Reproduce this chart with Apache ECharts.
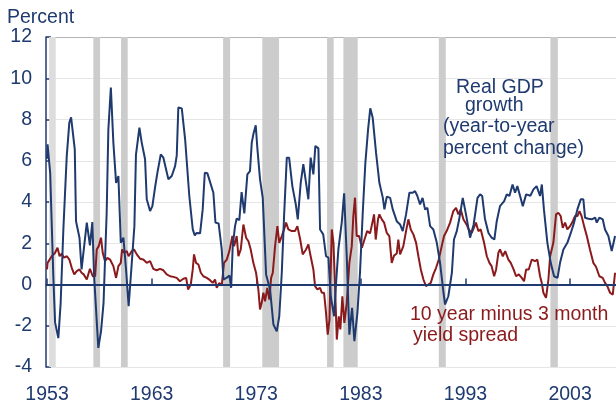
<!DOCTYPE html>
<html>
<head>
<meta charset="utf-8">
<script src="https://cdn.jsdelivr.net/npm/echarts@6/dist/echarts.min.js"></script>
<style>
  html, body { margin: 0; padding: 0; background: #fff; }
  #chart { width: 616px; height: 406px; }
</style>
</head>
<body>
<div id="chart"></div>
<script>
const NAVY = '#1f3a6f'
const RED = '#8b1a1c'
const BAR = '#cccccc'

const xTicks = [1953, 1963, 1973, 1983, 1993, 2003]

// recessions (start, end)
const recStart = [1953.2, 1957.43, 1960.07, 1969.83, 1973.58, 1979.77, 1981.33, 1990.45, 2001.12]
const recEnd = [1953.83, 1958.07, 1960.71, 1970.5, 1975.18, 1980.4, 1982.7, 1991.12, 2001.83]

// real GDP growth, year-to-year percent change
const gdpYears = [
  1953.0, 1953.05, 1953.3, 1953.6, 1953.77, 1954.08, 1954.3, 1954.56, 1954.88, 1955.13,
  1955.3, 1955.65, 1955.77, 1956.1, 1956.3, 1956.8, 1957.1, 1957.33, 1957.5, 1957.9,
  1958.16, 1958.4, 1958.7, 1958.86, 1959.1, 1959.34, 1959.6, 1959.82, 1960.05, 1960.3,
  1960.55, 1960.8, 1961.1, 1961.35, 1961.5, 1961.83, 1962.05, 1962.37, 1962.53, 1962.85,
  1963.07, 1963.32, 1963.55, 1963.87, 1964.12, 1964.6, 1964.92, 1965.24, 1965.4, 1965.55,
  1965.88, 1966.2, 1966.6, 1966.93, 1967.12, 1967.3, 1967.63, 1967.88, 1968.08, 1968.33,
  1968.9, 1969.1, 1969.4, 1969.7, 1969.86, 1970.18, 1970.43, 1970.6, 1970.75, 1970.97,
  1971.13, 1971.38, 1971.6, 1971.86, 1972.15, 1972.4, 1972.57, 1972.72, 1972.95, 1973.1,
  1973.36, 1973.62, 1973.94, 1974.32, 1974.64, 1974.96, 1975.2, 1975.44, 1975.66, 1975.92,
  1976.14, 1976.45, 1976.78, 1976.97, 1977.25, 1977.5, 1977.76, 1977.98, 1978.2, 1978.46,
  1978.65, 1978.94, 1979.1, 1979.4, 1979.67, 1979.9, 1980.12, 1980.44, 1980.63, 1980.85,
  1981.17, 1981.4, 1981.65, 1981.9, 1982.16, 1982.38, 1982.67, 1982.92, 1983.18, 1983.43,
  1983.69, 1983.9, 1984.13, 1984.45, 1984.77, 1985.1, 1985.25, 1985.48, 1985.8, 1986.05,
  1986.43, 1986.75, 1987.0, 1987.32, 1987.64, 1987.96, 1988.18, 1988.4, 1988.66, 1988.9,
  1989.14, 1989.36, 1989.62, 1989.93, 1990.26, 1990.57, 1990.9, 1991.05, 1991.36, 1991.7,
  1991.9, 1992.17, 1992.4, 1992.74, 1993.05, 1993.44, 1993.78, 1994.15, 1994.4, 1994.6,
  1994.87, 1995.2, 1995.5, 1995.76, 1995.99, 1996.3, 1996.7, 1996.95, 1997.2, 1997.5,
  1997.74, 1997.96, 1998.22, 1998.48, 1998.8, 1999.2, 1999.5, 1999.8, 2000.13, 2000.3,
  2000.5, 2000.83, 2001.15, 2001.47, 2001.8, 2002.04, 2002.36, 2002.74, 2003.07, 2003.38,
  2003.7, 2004.02, 2004.27, 2004.43, 2004.75, 2005.07, 2005.4, 2005.55, 2005.8, 2006.12,
  2006.34, 2006.66, 2006.98, 2007.3
]
const gdpValues = [
  6.1, 6.8, 5.4, 0.4, -1.85, -2.6, -0.9, 2.67, 6.2, 7.85,
  8.1, 6.55, 3.07, 2.27, 0.73, 3.0, 1.9, 3.03, 0.4, -3.07,
  -2.27, -0.9, 3.48, 7.5, 9.55, 6.88, 4.93, 5.26, 2.02, 2.27,
  0.73, -1.05, 1.05, 2.83, 6.3, 7.6, 6.88, 6.07, 4.13, 3.56,
  3.8, 4.69, 5.42, 6.31, 6.15, 5.1, 5.26, 5.74, 6.26, 8.58,
  8.54, 7.04, 4.29, 2.67, 2.38, 2.5, 2.48, 3.64, 5.42, 5.39,
  4.45, 3.0, 2.96, 1.7, 0.24, 0.33, 0.44, -0.16, 1.86, 2.83,
  3.2, 3.12, 4.48, 3.45, 5.34, 5.5, 6.88, 7.28, 7.72, 6.64,
  5.1, 4.2, 0.49, -0.24, -1.94, -2.27, -1.54, 0.57, 3.32, 6.15,
  6.15, 4.77, 3.88, 3.16, 4.93, 5.83, 4.93, 4.13, 6.15, 5.34,
  6.72, 6.6, 2.67, 2.43, 1.37, 1.3, -0.57, -1.54, 0.08, 1.7,
  3.0, 4.42, 1.37, -2.43, -1.13, -2.75, -1.38, 0.6, 3.48, 5.9,
  7.52, 8.54, 8.09, 6.39, 4.93, 4.2, 3.64, 4.26, 4.2, 3.64,
  3.07, 2.91, 2.59, 3.4, 4.45, 4.45, 4.53, 4.29, 3.88, 4.2,
  3.64, 3.72, 2.83, 2.67, 2.02, 1.05, -0.4, -0.97, -0.57, 0.57,
  2.18, 2.59, 3.16, 4.2, 3.4, 2.27, 2.91, 4.2, 4.37, 4.29,
  3.16, 2.5, 2.27, 2.18, 3.07, 3.8, 4.04, 4.37, 4.29, 4.85,
  4.45, 4.77, 4.29, 3.8, 4.37, 4.3, 4.61, 4.77, 4.29, 4.85,
  3.64, 2.02, 1.05, 0.4, 0.32, 1.05, 1.7, 2.02, 2.5, 3.0,
  3.64, 4.13, 4.13, 3.24, 3.19, 3.16, 3.24, 3.0, 3.24, 3.16,
  2.67, 2.35, 1.62, 2.35
]

// 10 year minus 3 month yield spread
const spreadYears = [
  1953.0, 1953.05, 1953.2, 1953.45, 1953.77, 1954.0, 1954.2, 1954.4, 1954.6, 1954.9,
  1955.13, 1955.36, 1955.6, 1955.84, 1956.1, 1956.3, 1956.5, 1956.8, 1957.1, 1957.37,
  1957.6, 1957.75, 1957.94, 1958.16, 1958.32, 1958.54, 1958.77, 1959.02, 1959.18, 1959.34,
  1959.6, 1959.82, 1960.05, 1960.17, 1960.36, 1960.62, 1960.8, 1961.1, 1961.32, 1961.58,
  1961.89, 1962.2, 1962.53, 1962.85, 1963.16, 1963.48, 1963.8, 1964.12, 1964.44, 1964.76,
  1965.07, 1965.4, 1965.7, 1966.03, 1966.3, 1966.48, 1966.74, 1966.93, 1967.05, 1967.24,
  1967.47, 1967.7, 1967.94, 1968.27, 1968.58, 1968.84, 1969.06, 1969.22, 1969.47, 1969.7,
  1969.92, 1970.18, 1970.43, 1970.72, 1970.88, 1971.13, 1971.29, 1971.52, 1971.77, 1972.03,
  1972.25, 1972.47, 1972.72, 1972.98, 1973.2, 1973.36, 1973.52, 1973.68, 1973.84, 1974.06,
  1974.25, 1974.42, 1974.58, 1974.8, 1975.02, 1975.2, 1975.44, 1975.66, 1975.85, 1976.07,
  1976.4, 1976.7, 1976.93, 1977.2, 1977.44, 1977.76, 1977.98, 1978.2, 1978.46, 1978.62,
  1978.84, 1979.1, 1979.26, 1979.48, 1979.67, 1979.83, 1980.0, 1980.22, 1980.38, 1980.53,
  1980.7, 1980.89, 1981.04, 1981.23, 1981.42, 1981.65, 1981.9, 1982.13, 1982.28, 1982.44,
  1982.6, 1982.83, 1983.1, 1983.4, 1983.6, 1983.88, 1984.1, 1984.26, 1984.42, 1984.64,
  1984.77, 1985.0, 1985.22, 1985.48, 1985.72, 1985.95, 1986.17, 1986.43, 1986.58, 1986.75,
  1987.06, 1987.32, 1987.54, 1987.77, 1988.02, 1988.28, 1988.5, 1988.73, 1988.98, 1989.23,
  1989.45, 1989.68, 1989.93, 1990.19, 1990.45, 1990.73, 1990.95, 1991.2, 1991.53, 1991.84,
  1992.1, 1992.32, 1992.55, 1992.8, 1993.1, 1993.3, 1993.6, 1994.0, 1994.23, 1994.46,
  1994.78, 1995.04, 1995.29, 1995.5, 1995.74, 1995.93, 1996.15, 1996.3, 1996.57, 1996.8,
  1997.1, 1997.33, 1997.6, 1997.84, 1998.1, 1998.38, 1998.6, 1998.8, 1999.05, 1999.34,
  1999.65, 1999.87, 2000.13, 2000.29, 2000.45, 2000.7, 2000.93, 2001.09, 2001.4, 2001.66,
  2001.88, 2002.1, 2002.3, 2002.52, 2002.74, 2003.0, 2003.26, 2003.48, 2003.7, 2003.9,
  2004.1, 2004.34, 2004.6, 2004.9, 2005.22, 2005.48, 2005.8, 2006.12, 2006.34, 2006.56,
  2006.82, 2007.08, 2007.3
]
const spreadValues = [
  0.73, 1.05, 0.97, 1.37, 1.54, 1.78, 1.37, 1.5, 1.3, 1.37,
  1.21, 0.81, 0.49, 0.65, 0.73, 0.57, 0.49, 0.24, 0.76, 0.4,
  0.4, 1.7, 1.86, 2.27, 1.54, 1.13, 1.29, 1.21, 1.3, 0.89,
  0.32, 0.89, 1.05, 1.7, 1.54, 1.62, 1.37, 1.62, 1.7, 1.46,
  1.25, 1.21, 1.05, 1.13, 0.76, 0.69, 0.76, 0.69, 0.49, 0.4,
  0.37, 0.32, 0.16, 0.28, 0.32, -0.24, 0.0, 0.73, 1.46, 1.05,
  0.97, 0.57, 0.4, 0.32, 0.21, 0.08, 0.24, -0.16, 0.08, -0.05,
  1.05, 1.21, 1.62, 2.35, 1.86, 2.35, 1.37, 1.7, 2.91, 2.27,
  2.1, 1.7, 1.05, 0.57, -0.24, -1.21, -0.89, -0.4, -0.81, -0.16,
  -0.73, 0.32, 0.57, 1.86, 2.83, 2.02, 2.35, 2.67, 3.0, 2.67,
  2.59, 2.59, 2.83, 2.18, 1.46, 1.7, 1.94, 1.37, 0.73, -0.08,
  -0.24, -0.16, -0.4, -0.4, -1.38, -2.43, -1.7, 2.67, 2.02, -0.08,
  -2.67, -1.54, -2.18, -0.57, -1.86, -0.89, 1.05, 1.86, 3.32, 4.21,
  2.35, 2.35, 1.78, 2.27, 2.59, 2.48, 3.0, 3.4, 2.18, 3.16,
  3.4, 3.16, 3.0, 2.5, 2.35, 1.05, 1.4, 1.5, 2.18, 1.46,
  1.86, 2.59, 3.16, 2.67, 2.43, 2.02, 1.37, 0.73, 0.24, -0.08,
  0.0, 0.08, 0.49, 0.81, 1.21, 1.86, 2.35, 2.59, 3.0, 3.56,
  3.72, 3.4, 3.64, 3.16, 2.91, 2.67, 2.5, 3.0, 2.59, 2.67,
  2.02, 1.37, 1.05, 0.89, 0.4, 0.73, 1.54, 1.7, 1.37, 1.62,
  1.21, 1.05, 0.73, 0.4, 0.49, 0.32, 0.16, 0.73, 0.73, 1.21,
  1.13, 1.21, 0.4, 0.08, -0.4, -0.65, 0.24, 1.37, 2.02, 3.4,
  3.48, 3.32, 2.75, 3.0, 2.67, 2.83, 3.07, 3.32, 3.32, 3.56,
  3.32, 2.83, 2.35, 1.7, 1.05, 0.86, 0.4, 0.32, 0.08, -0.08,
  -0.4, -0.49, 0.57
]

const zip = (xs, ys) => xs.map((x, i) => [x, ys[i]])

const bands = recStart.map((s, i) => [
  { xAxis: s, itemStyle: { color: i === 0 ? '#dddddd' : BAR } },
  { xAxis: recEnd[i] },
])

const chart = echarts.init(document.getElementById('chart'), null, { renderer: 'canvas' })

const labelFont = { color: NAVY, fontFamily: 'Liberation Sans, Arial, sans-serif', fontSize: 19.5 }
const textStyle = (color) => ({ fill: color, fontFamily: 'Liberation Sans, Arial, sans-serif', fontSize: 19.5, textVerticalAlign: 'middle' })

chart.setOption({
  animation: false,
  grid: { left: 46, right: 0, top: 37, bottom: 39 },
  xAxis: {
    type: 'value',
    min: 1952.9,
    max: 2007.39,
    splitLine: { show: false },
    axisLine: { lineStyle: { color: NAVY, width: 1.5 } },
    axisTick: { inside: true, length: 6, customValues: xTicks, lineStyle: { color: NAVY, width: 1.5 } },
    axisLabel: { ...labelFont, margin: 18, customValues: xTicks, formatter: (v) => String(v) },
  },
  yAxis: {
    type: 'value',
    min: -4,
    max: 12,
    interval: 2,
    axisLine: { show: true, lineStyle: { color: NAVY, width: 1.5 } },
    axisTick: { show: true, inside: true, length: 5, lineStyle: { color: NAVY, width: 1.5 } },
    axisLabel: { ...labelFont, margin: 14 },
    splitLine: {
      lineStyle: {
        color: ['#e6e6e6', '#e6e6e6', '#e6e6e6', '#e6e6e6', '#e6e6e6', '#e6e6e6', '#e6e6e6', '#e6e6e6', '#b4b4b4'],
        width: 1,
      },
    },
  },
  series: [
    {
      type: 'line',
      data: [],
      z: 1,
      silent: true,
      markArea: { silent: true, data: bands },
    },
    {
      name: 'spread',
      type: 'line',
      z: 3,
      data: zip(spreadYears, spreadValues),
      showSymbol: false,
      lineStyle: { color: RED, width: 2 },
    },
    {
      name: 'gdp',
      type: 'line',
      z: 4,
      data: zip(gdpYears, gdpValues),
      showSymbol: false,
      lineStyle: { color: NAVY, width: 2 },
    },
    {
      type: 'line',
      data: [],
      z: 5,
      silent: true,
      markLine: {
        silent: true,
        symbol: 'none',
        label: { show: false },
        lineStyle: { color: NAVY, width: 2, type: 'solid' },
        data: [{ yAxis: 0 }],
      },
    },
  ],
  graphic: [
    { type: 'text', left: 7, top: 8, z: 10, style: { ...textStyle(NAVY), text: 'Percent', textVerticalAlign: 'top' } },
    { type: 'text', x: 456, y: 88, z: 10, style: { ...textStyle(NAVY), text: 'Real GDP' } },
    { type: 'text', x: 465, y: 106, z: 10, style: { ...textStyle(NAVY), text: 'growth' } },
    { type: 'text', x: 443, y: 127, z: 10, style: { ...textStyle(NAVY), text: '(year-to-year' } },
    { type: 'text', x: 443, y: 149, z: 10, style: { ...textStyle(NAVY), text: 'percent change)' } },
    { type: 'text', x: 410, y: 315, z: 10, style: { ...textStyle(RED), text: '10 year minus 3 month' } },
    { type: 'text', x: 413, y: 336, z: 10, style: { ...textStyle(RED), text: 'yield spread' } },
  ],
})
</script>
</body>
</html>
